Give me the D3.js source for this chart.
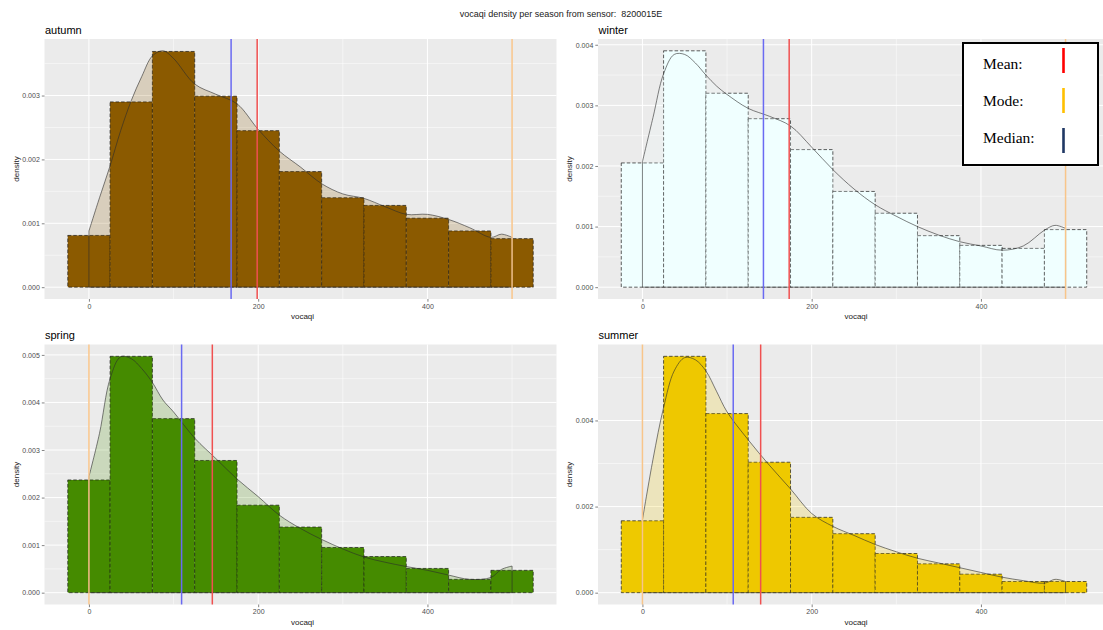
<!DOCTYPE html>
<html>
<head>
<meta charset="utf-8">
<script src="https://cdn.jsdelivr.net/npm/d3@7"></script>
<style>
  body { margin: 0; background: #fff; }
  svg { display: block; font-family: "Liberation Sans", Arial, sans-serif; }
  .legend-text { font-family: "Liberation Serif", "Times New Roman", serif; }
</style>
</head>
<body>
<svg id="chart" width="1103" height="630"></svg>
<script>
// ---- data ----------------------------------------------------------------
const seasons = ["autumn", "winter", "spring", "summer"];
const binMids = [0, 50, 100, 150, 200, 250, 300, 350, 400, 450, 500];
const binWidth = 50;

// histogram densities per bin
const histAutumn = [0.00081, 0.00290, 0.00369, 0.00299, 0.00245, 0.00181, 0.00140, 0.00128, 0.00108, 0.00088, 0.00076];
const histWinter = [0.00205, 0.00390, 0.00320, 0.00278, 0.00227, 0.00158, 0.00122, 0.00085, 0.00069, 0.00064, 0.00095];
const histSpring = [0.00237, 0.00497, 0.00366, 0.00278, 0.00184, 0.00138, 0.00095, 0.00076, 0.00051, 0.00028, 0.00047];
const histSummer = [0.00167, 0.00549, 0.00416, 0.00303, 0.00175, 0.00137, 0.00091, 0.00067, 0.00043, 0.00026, 0.00026];

// kernel density estimate, sampled on a shared grid
const densX = [0, 12.5, 25, 37.5, 50, 62.5, 75, 87.5, 100, 125, 150, 175, 200, 225, 250, 275, 300, 325, 350, 375, 400, 425, 450, 475, 487.5, 500];
const densAutumn = [0.00088, 0.00140, 0.00190, 0.00245, 0.00292, 0.00330, 0.00362, 0.00370, 0.00358, 0.00318, 0.00302, 0.00287, 0.00247, 0.00213, 0.00188, 0.00162, 0.00146, 0.00139, 0.00126, 0.00114, 0.00114, 0.00106, 0.00093, 0.00078, 0.00083, 0.00078];
const densWinter = [0.00207, 0.00280, 0.00352, 0.00384, 0.00384, 0.00370, 0.00350, 0.00332, 0.00318, 0.00295, 0.00282, 0.00266, 0.00231, 0.00194, 0.00162, 0.00136, 0.00117, 0.00100, 0.00086, 0.00075, 0.00068, 0.00061, 0.00068, 0.00094, 0.00102, 0.00097];
const densSpring = [0.00244, 0.00335, 0.00450, 0.00496, 0.00492, 0.00471, 0.00442, 0.00405, 0.00380, 0.00325, 0.00282, 0.00239, 0.00202, 0.00163, 0.00135, 0.00112, 0.00092, 0.00075, 0.00064, 0.00055, 0.00047, 0.00037, 0.00028, 0.00032, 0.00049, 0.00056];
const densSummer = [0.00169, 0.00310, 0.00430, 0.00515, 0.00546, 0.00541, 0.00515, 0.00468, 0.00420, 0.00355, 0.00296, 0.00241, 0.00184, 0.00154, 0.00133, 0.00112, 0.00095, 0.00080, 0.00069, 0.00058, 0.00047, 0.00036, 0.00028, 0.00022, 0.00031, 0.00026];

// summary statistics (vocaqi)
const meanVals   = [198.8, 173.4, 145.8, 139.7];
const medianVals = [168, 143, 109.5, 107.3];
const modeVals   = [500, 500, 0, 0];

// axis ticks
const xTicks = [0, 200, 400];
const yTicksAutumn = [0, 0.001, 0.002, 0.003];
const yTicksWinter = [0, 0.001, 0.002, 0.003, 0.004];
const yTicksSpring = [0, 0.001, 0.002, 0.003, 0.004, 0.005];
const yTicksSummer = [0, 0.002, 0.004];

const fillColors = ["#8B5A00", "#F0FFFF", "#458B00", "#EEC900"];
const statColors = { mean: "#F05050", median: "#6A6AF2", mode: "#F8C58A" };
const legendLabels = ["Mean:", "Mode:", "Median:"];
const legendColors = ["#FF0000", "#FFC000", "#203864"];

const titleText = "vocaqi density per season from sensor:  8200015E";

// ---- layout --------------------------------------------------------------
const hist = [histAutumn, histWinter, histSpring, histSummer];
const dens = [densAutumn, densWinter, densSpring, densSummer];
const yTicks = [yTicksAutumn, yTicksWinter, yTicksSpring, yTicksSummer];
const panelBoxes = [
  { x0: 44.5, x1: 556.5, y0: 39,    y1: 299 },
  { x0: 598,  x1: 1110,  y0: 39,    y1: 299 },
  { x0: 44.5, x1: 556.5, y0: 344.5, y1: 604.5 },
  { x0: 598,  x1: 1110,  y0: 344.5, y1: 604.5 }
];

const svg = d3.select("#chart");

svg.append("text")
  .attr("x", 561).attr("y", 17)
  .attr("text-anchor", "middle")
  .attr("font-size", 9)
  .style("white-space", "pre")
  .attr("fill", "#1a1a1a")
  .text(titleText);

seasons.forEach((name, i) => {
  const b = panelBoxes[i];
  const xMin = -binWidth / 2, xMax = binMids[binMids.length - 1] + binWidth / 2;
  const xPad = (xMax - xMin) * 0.05;
  const x = d3.scaleLinear().domain([xMin - xPad, xMax + xPad]).range([b.x0, b.x1]);
  const top = Math.max(d3.max(hist[i]), d3.max(dens[i]));
  const y = d3.scaleLinear().domain([-0.05 * top, 1.05 * top]).range([b.y1, b.y0]);

  const g = svg.append("g");

  // panel background
  g.append("rect")
    .attr("x", b.x0).attr("y", b.y0)
    .attr("width", b.x1 - b.x0).attr("height", b.y1 - b.y0)
    .attr("fill", "#EBEBEB");

  // minor grid
  const yStep = yTicks[i][1] - yTicks[i][0];
  const yMinor = d3.range(yStep / 2, y.domain()[1], yStep);
  const xMinor = [-100, 100, 300, 500].filter(v => v > x.domain()[0] && v < x.domain()[1]);
  g.selectAll(null).data(xMinor).enter().append("line")
    .attr("x1", d => x(d)).attr("x2", d => x(d))
    .attr("y1", b.y0).attr("y2", b.y1)
    .attr("stroke", "#fff").attr("stroke-width", 0.5);
  g.selectAll(null).data(yMinor).enter().append("line")
    .attr("x1", b.x0).attr("x2", b.x1)
    .attr("y1", d => y(d)).attr("y2", d => y(d))
    .attr("stroke", "#fff").attr("stroke-width", 0.5);
  // major grid
  g.selectAll(null).data(xTicks).enter().append("line")
    .attr("x1", d => x(d)).attr("x2", d => x(d))
    .attr("y1", b.y0).attr("y2", b.y1)
    .attr("stroke", "#fff").attr("stroke-width", 1);
  g.selectAll(null).data(yTicks[i]).enter().append("line")
    .attr("x1", b.x0).attr("x2", b.x1)
    .attr("y1", d => y(d)).attr("y2", d => y(d))
    .attr("stroke", "#fff").attr("stroke-width", 1);

  // histogram bars
  g.selectAll(null).data(binMids).enter().append("rect")
    .attr("x", d => x(d - binWidth / 2))
    .attr("width", d => x(d + binWidth / 2) - x(d - binWidth / 2))
    .attr("y", (d, k) => y(hist[i][k]))
    .attr("height", (d, k) => y(0) - y(hist[i][k]))
    .attr("fill", fillColors[i])
    .attr("stroke", "#1a1a1a")
    .attr("stroke-width", 0.7)
    .attr("stroke-dasharray", "3.5,2");

  // density curve (closed polygon down to the baseline)
  const pts = densX.map((v, k) => [v, dens[i][k]]);
  const line = d3.line().x(d => x(d[0])).y(d => y(d[1])).curve(d3.curveCatmullRom.alpha(0.5));
  const first = densX[0], last = densX[densX.length - 1];
  const pathD = "M" + x(first) + "," + y(0) + "L" + line(pts).slice(1) +
                "L" + x(last) + "," + y(0) + "Z";
  g.append("path")
    .attr("d", pathD)
    .attr("fill", fillColors[i])
    .attr("fill-opacity", 0.2)
    .attr("stroke", "#2b2b2b")
    .attr("stroke-width", 0.6);

  // summary lines
  const vlines = [
    { v: modeVals[i], c: statColors.mode },
    { v: medianVals[i], c: statColors.median },
    { v: meanVals[i], c: statColors.mean }
  ];
  g.selectAll(null).data(vlines).enter().append("line")
    .attr("x1", d => x(d.v)).attr("x2", d => x(d.v))
    .attr("y1", b.y0).attr("y2", b.y1)
    .attr("stroke", d => d.c)
    .attr("stroke-width", 1.5);

  // axes
  const ax = g.append("g")
    .attr("transform", `translate(0,${b.y1})`)
    .call(d3.axisBottom(x).tickValues(xTicks).tickSize(2.7).tickPadding(2).tickFormat(d3.format("d")));
  const ay = g.append("g")
    .attr("transform", `translate(${b.x0},0)`)
    .call(d3.axisLeft(y).tickValues(yTicks[i]).tickSize(2.7).tickPadding(2).tickFormat(d3.format(".3f")));
  [ax, ay].forEach(a => {
    a.attr("font-family", null);
    a.select(".domain").remove();
    a.selectAll(".tick line").attr("stroke", "#333").attr("stroke-width", 0.6);
    a.selectAll(".tick text").attr("fill", "#4D4D4D").attr("font-size", 7);
  });

  // axis titles
  g.append("text")
    .attr("x", (b.x0 + Math.min(b.x1, b.x0 + 512)) / 2 + 2)
    .attr("y", b.y1 + 20)
    .attr("text-anchor", "middle")
    .attr("font-size", 8).attr("fill", "#1a1a1a")
    .text("vocaqi");
  g.append("text")
    .attr("transform", `translate(${b.x0 - 26},${(b.y0 + b.y1) / 2}) rotate(-90)`)
    .attr("text-anchor", "middle")
    .attr("font-size", 8).attr("fill", "#1a1a1a")
    .text("density");

  // panel title
  g.append("text")
    .attr("x", b.x0 + 0.5).attr("y", b.y0 - 5.5)
    .attr("font-size", 11).attr("fill", "#000")
    .text(name);
});

// ---- legend box ----------------------------------------------------------
const lg = svg.append("g");
lg.append("rect")
  .attr("x", 963).attr("y", 43)
  .attr("width", 135).attr("height", 122)
  .attr("fill", "#fff").attr("stroke", "#000").attr("stroke-width", 2);
legendLabels.forEach((lab, k) => {
  lg.append("text")
    .attr("class", "legend-text")
    .attr("x", 983).attr("y", 69 + k * 37)
    .attr("font-size", 15.5).attr("fill", "#000")
    .text(lab);
  lg.append("line")
    .attr("x1", 1063.5).attr("x2", 1063.5)
    .attr("y1", 48 + k * 40).attr("y2", 73 + k * 40)
    .attr("stroke", legendColors[k]).attr("stroke-width", 2.6);
});
</script>
</body>
</html>
